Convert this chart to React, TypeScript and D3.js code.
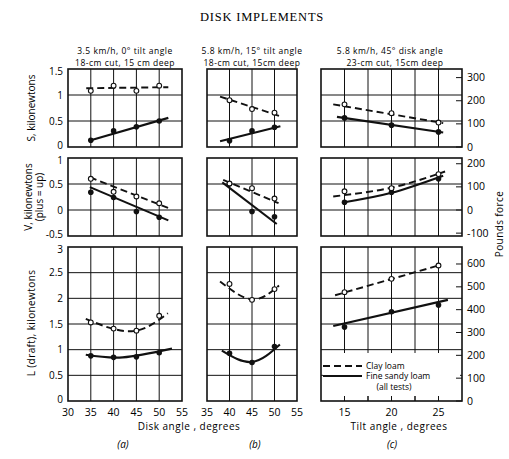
import * as d3 from "d3";
import React from "react";

// x values (degrees)
const diskAnglesA = [35, 40, 45, 50];
const diskAnglesB = [40, 45, 50];
const tiltAngles = [15, 20, 25];

// S, kilonewtons
const sClayA = [1.08, 1.18, 1.08, 1.18];
const sSandA = [0.13, 0.31, 0.39, 0.5];
const sClayB = [0.9, 0.73, 0.66];
const sSandB = [0.12, 0.31, 0.38];
const sClayC = [0.82, 0.65, 0.47];
const sSandC = [0.56, 0.42, 0.29];

// V, kilonewtons (plus = up)
const vClayA = [0.6, 0.35, 0.26, 0.13];
const vSandA = [0.34, 0.24, -0.03, -0.14];
const vClayB = [0.51, 0.42, 0.22];
const vSandB = [0.5, -0.03, -0.13];
const vClayC = [0.36, 0.42, 0.69];
const vSandC = [0.15, 0.34, 0.6];

// L (draft), kilonewtons
const lClayA = [1.53, 1.41, 1.37, 1.66];
const lSandA = [0.88, 0.85, 0.86, 0.94];
const lClayB = [2.28, 1.97, 2.18];
const lSandB = [0.93, 0.75, 1.06];
const lClayC = [2.12, 2.38, 2.64];
const lSandC = [1.44, 1.74, 1.87];

// fitted lines / curves [x, y]
const sClayFitA = [[34, 1.13], [52, 1.15]];
const sSandFitA = [[35, 0.13], [52, 0.56]];
const sClayFitB = [[37.9, 0.97], [51, 0.6]];
const sSandFitB = [[37.9, 0.11], [51.3, 0.4]];
const sClayFitC = [[13.8, 0.82], [25.5, 0.46]];
const sSandFitC = [[14.2, 0.58], [25.5, 0.28]];

const vClayFitA = [[34.8, 0.63], [52.5, 0.02]];
const vSandFitA = [[34.8, 0.44], [52, -0.2]];
const vClayFitB = [[38.6, 0.58], [50.9, 0.13]];
const vSandFitB = [[38.4, 0.53], [50.5, -0.27]];
const vClayFitC = [[13.8, 0.26], [20, 0.43], [25.7, 0.74]];
const vSandFitC = [[15, 0.15], [20, 0.33], [25.5, 0.66]];

const lClayFitA = [[33.9, 1.6], [44, 1.36], [51.9, 1.71]];
const lSandFitA = [[33.9, 0.9], [42, 0.85], [52.8, 1.02]];
const lClayFitB = [[37.9, 2.33], [45, 1.98], [51, 2.25]];
const lSandFitB = [[38.3, 0.98], [45, 0.76], [51.2, 1.1]];
const lClayFitC = [[14, 2.06], [25, 2.64]];
const lSandFitC = [[13.8, 1.46], [26, 1.97]];

// axis ticks
const lbfTicksS = [0, 100, 200, 300];
const lbfTicksV = [-100, 0, 100, 200];
const lbfTicksL = [0, 100, 200, 300, 400, 500, 600];
const LBF_PER_KN = 224.81;

const sans = "'Open Sans', 'DejaVu Sans', sans-serif";

const cols = [
  { range: [68, 182], domain: [30, 55], grid: [35, 40, 45, 50], labels: [30, 35, 40, 45, 50, 55] },
  { range: [207, 297], domain: [35, 55], grid: [40, 45, 50], labels: [35, 40, 45, 50, 55] },
  { range: [321, 462], domain: [12.5, 27.5], grid: [15, 17.5, 20, 22.5, 25], labels: [15, 20, 25] },
];
const rows = [
  { range: [147, 69], domain: [0, 1.5], grid: [0.5, 1], labels: [0, 0.5, 1, 1.5], lbf: lbfTicksS },
  { range: [236, 158], domain: [-0.5, 1], grid: [0, 0.5], labels: [-0.5, 0, 0.5, 1], lbf: lbfTicksV },
  { range: [401, 247], domain: [0, 3], grid: [0.5, 1, 1.5, 2, 2.5], labels: [0, 0.5, 1, 1.5, 2, 2.5, 3], lbf: lbfTicksL },
];

const panels = [
  { r: 0, c: 0, xs: diskAnglesA, clay: sClayA, sand: sSandA, clayFit: sClayFitA, sandFit: sSandFitA },
  { r: 0, c: 1, xs: diskAnglesB, clay: sClayB, sand: sSandB, clayFit: sClayFitB, sandFit: sSandFitB },
  { r: 0, c: 2, xs: tiltAngles, clay: sClayC, sand: sSandC, clayFit: sClayFitC, sandFit: sSandFitC },
  { r: 1, c: 0, xs: diskAnglesA, clay: vClayA, sand: vSandA, clayFit: vClayFitA, sandFit: vSandFitA },
  { r: 1, c: 1, xs: diskAnglesB, clay: vClayB, sand: vSandB, clayFit: vClayFitB, sandFit: vSandFitB },
  { r: 1, c: 2, xs: tiltAngles, clay: vClayC, sand: vSandC, clayFit: vClayFitC, sandFit: vSandFitC },
  { r: 2, c: 0, xs: diskAnglesA, clay: lClayA, sand: lSandA, clayFit: lClayFitA, sandFit: lSandFitA },
  { r: 2, c: 1, xs: diskAnglesB, clay: lClayB, sand: lSandB, clayFit: lClayFitB, sandFit: lSandFitB },
  { r: 2, c: 2, xs: tiltAngles, clay: lClayC, sand: lSandC, clayFit: lClayFitC, sandFit: lSandFitC },
];

const headers = [
  ["3.5 km/h, 0° tilt angle", "18-cm cut, 15 cm deep"],
  ["5.8 km/h, 15° tilt angle", "18-cm cut, 15cm deep"],
  ["5.8 km/h, 45° disk angle", "23-cm cut, 15cm deep"],
];

const Panel = ({ p }: any) => {
  const col = cols[p.c];
  const row = rows[p.r];
  const x = d3.scaleLinear().domain(col.domain).range(col.range);
  const y = d3.scaleLinear().domain(row.domain).range(row.range);
  const line = (pts: number[][]) =>
    d3.line<number[]>()
      .x((d) => x(d[0]))
      .y((d) => y(d[1]))
      .curve(pts.length > 2 ? d3.curveNatural : d3.curveLinear)(pts) || "";
  const [x0, x1] = col.range;
  const [yb, yt] = row.range;
  return (
    <g>
      {col.grid.map((g) => (
        <line key={"vx" + g} x1={x(g)} x2={x(g)} y1={yt} y2={yb} stroke="#111" strokeWidth={1} />
      ))}
      {row.grid.map((g) => (
        <line key={"hy" + g} x1={x0} x2={x1} y1={y(g)} y2={y(g)} stroke="#111" strokeWidth={1} />
      ))}
      <rect x={x0} y={yt} width={x1 - x0} height={yb - yt} fill="none" stroke="#111" strokeWidth={1.6} />
      <path d={line(p.clayFit)} fill="none" stroke="#111" strokeWidth={1.9} strokeDasharray="7,4" />
      <path d={line(p.sandFit)} fill="none" stroke="#111" strokeWidth={2.1} />
      {p.xs.map((v: number, i: number) => (
        <circle key={"s" + i} cx={x(v)} cy={y(p.sand[i])} r={2.8} fill="#111" />
      ))}
      {p.xs.map((v: number, i: number) => (
        <circle key={"c" + i} cx={x(v)} cy={y(p.clay[i])} r={2.4} fill="#fff" stroke="#111" strokeWidth={1.1} />
      ))}
    </g>
  );
};

export default function App() {
  const xc = d3.scaleLinear().domain(cols[2].domain).range(cols[2].range);
  return (
    <svg width={509} height={459} style={{ position: "absolute", left: 0, top: 0, background: "#fff" }}>
      <text x={262} y={21} textAnchor="middle" fontFamily="'Liberation Serif', serif" fontSize={12.5} letterSpacing={0.8}>
        DISK IMPLEMENTS
      </text>
      {headers.map((h, i) => {
        const cx = i === 2 ? 390 : (cols[i].range[0] + cols[i].range[1]) / 2;
        return (
          <g key={"h" + i} fontFamily={sans} fontSize={8.5} letterSpacing={0.5} textAnchor="middle">
            <text x={cx} y={54}>{h[0]}</text>
            <text x={cx + (i === 2 ? 5 : 0)} y={66}>{h[1]}</text>
          </g>
        );
      })}
      {panels.map((p, i) => (
        <Panel key={i} p={p} />
      ))}
      {/* legend */}
      <rect x={323} y={353} width={137} height={43} fill="#fff" />
      <line x1={323} x2={362} y1={366} y2={366} stroke="#111" strokeWidth={1.9} strokeDasharray="7,4" />
      <line x1={323} x2={362} y1={376} y2={376} stroke="#111" strokeWidth={2.1} />
      <g fontFamily={sans} fontSize={8.5}>
        <text x={366} y={369}>Clay loam</text>
        <text x={366} y={379}>Fine sandy loam</text>
        <text x={394} y={390} textAnchor="middle">(all tests)</text>
      </g>
      {cols[2].grid.map((g) => (
        <line key={"bt" + g} x1={xc(g)} x2={xc(g)} y1={401} y2={396} stroke="#111" strokeWidth={1} />
      ))}
      {/* left y tick labels */}
      {rows.map((row, ri) => {
        const y = d3.scaleLinear().domain(row.domain).range(row.range);
        const off = (v: number) => (v === row.domain[0] ? 1.5 : v === row.domain[1] ? 5.5 : 3.5);
        return (
          <g key={"yl" + ri} fontFamily={sans} fontSize={10} textAnchor="end">
            {row.labels.map((v) => (
              <text key={v} x={63} y={y(v) + off(v)}>{String(v)}</text>
            ))}
          </g>
        );
      })}
      {/* right lbf axis */}
      {rows.map((row, ri) => {
        const y = d3.scaleLinear().domain(row.domain).range(row.range);
        return (
          <g key={"yr" + ri} fontFamily={sans} fontSize={10.5}>
            {row.lbf.map((v) => (
              <g key={v}>
                <line x1={456} x2={462} y1={y(v / LBF_PER_KN)} y2={y(v / LBF_PER_KN)} stroke="#111" strokeWidth={1} />
                <text x={467} y={y(v / LBF_PER_KN) + 3.5}>{v}</text>
              </g>
            ))}
          </g>
        );
      })}
      {/* bottom x tick labels */}
      {cols.map((col, ci) => {
        const x = d3.scaleLinear().domain(col.domain).range(col.range);
        return (
          <g key={"xl" + ci} fontFamily={sans} fontSize={10.5} textAnchor="middle">
            {col.labels.map((v) => (
              <text key={v} x={x(v)} y={416}>{v}</text>
            ))}
          </g>
        );
      })}
      {/* axis titles */}
      <g fontFamily={sans} fontSize={10} textAnchor="middle">
        <text transform="translate(35,108) rotate(-90)">S, kilonewtons</text>
        <text transform="translate(32,197) rotate(-90)">V, kilonewtons</text>
        <text transform="translate(43,197) rotate(-90)">(plus = up)</text>
        <text transform="translate(35,323) rotate(-90)" letterSpacing={0.4}>L (draft), kilonewtons</text>
        <text transform="translate(503,224) rotate(-90)" letterSpacing={0.4}>Pounds force</text>
        <text x={189} y={430} letterSpacing={0.5}>Disk angle , degrees</text>
        <text x={399} y={430} letterSpacing={0.5}>Tilt angle , degrees</text>
        <text x={123} y={448} fontStyle="italic">(a)</text>
        <text x={255} y={448} fontStyle="italic">(b)</text>
        <text x={392} y={448} fontStyle="italic">(c)</text>
      </g>
    </svg>
  );
}
